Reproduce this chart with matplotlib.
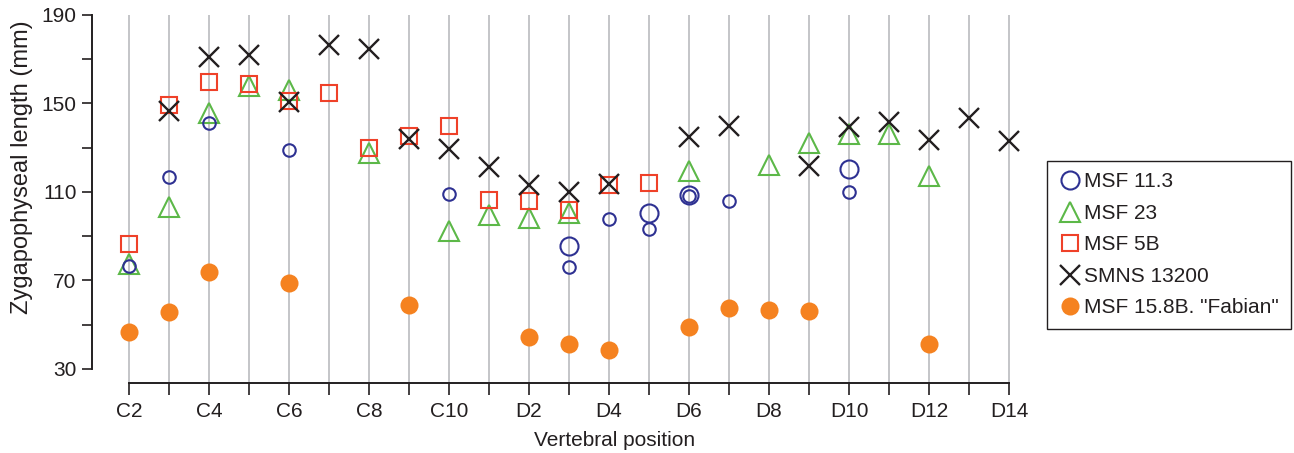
import numpy as np
import matplotlib
matplotlib.use("Agg")
import matplotlib.pyplot as plt

nan = np.nan

positions = ["C2", "C3", "C4", "C5", "C6", "C7", "C8", "C9", "C10",
             "D1", "D2", "D3", "D4", "D5", "D6", "D7", "D8", "D9", "D10",
             "D11", "D12", "D13", "D14"]
tick_labels = [p if i % 2 == 0 else "" for i, p in enumerate(positions)]

msf_11_3_small = [76.6, 116.8, 141.4, nan, 128.9, nan, nan, nan, 109.3, nan, nan,
                  76.2, 97.7, 93.2, 108.0, 105.8, nan, nan, 110.0, nan, nan, nan, nan]
msf_11_3_large = [nan, nan, nan, nan, nan, nan, nan, nan, nan, nan, nan,
                  85.7, nan, 100.3, 108.6, nan, nan, nan, 120.3, nan, nan, nan, nan]
msf_23 = [77.6, 103.1, 145.7, 157.8, 156.0, nan, 127.7, nan, 92.3, 99.5, 98.4,
          100.7, nan, nan, 119.7, nan, 122.1, 132.3, 136.0, 136.0, 117.2, nan, nan]
msf_5b = [86.4, 149.4, 159.7, 158.6, 151.1, 154.8, 130.1, 135.3, 139.8, 106.4, 105.8,
          101.9, 113.1, 113.9, nan, nan, nan, nan, nan, nan, nan, nan, nan]
smns_13200 = [nan, 146.6, 171.0, 171.8, 150.7, 176.6, 174.8, 133.8, 129.6, 121.3, 113.1,
              109.8, 113.8, nan, 134.9, 139.8, nan, 121.8, 139.5, 141.8, 133.7, 143.5, 133.1]
msf_15_8b = [46.8, 55.9, 73.7, nan, 69.0, nan, nan, 58.9, nan, nan, 44.6,
             41.1, 38.6, nan, 49.1, 57.7, 56.6, 56.2, nan, nan, 41.1, nan, nan]

y_ticks = [30, 70, 110, 150, 190]
y_minor = [50, 90, 130, 170]

BLUE = "#2E3192"
GREEN = "#5CB848"
RED = "#EF4129"
BLACK = "#231F20"
ORANGE = "#F58220"
GRID = "#BFC0C4"

plt.rcParams["font.family"] = ["Liberation Sans", "DejaVu Sans"]
plt.rcParams["font.size"] = 15
plt.rcParams["text.color"] = BLACK

fig = plt.figure(figsize=(12.94, 4.53), dpi=100)
W, H = 1294, 453
left_px, right_px, top_px, bottom_px = 92, 1029, 15, 383
ax = fig.add_axes([left_px / W, 1 - bottom_px / H, (right_px - left_px) / W, (bottom_px - top_px) / H])

x = np.arange(len(positions))

lw = 1.5
ax.plot(x, msf_23, linestyle="none", marker="^", ms=15, mfc="none", mec=GREEN, mew=lw, label="MSF 23", zorder=3)
ax.plot(x, msf_5b, linestyle="none", marker="s", ms=12, mfc="none", mec=RED, mew=lw, label="MSF 5B", zorder=4)
ax.plot(x, msf_11_3_small, linestyle="none", marker="o", ms=9, mfc="none", mec=BLUE, mew=lw, zorder=5)
ax.plot(x, msf_11_3_large, linestyle="none", marker="o", ms=13, mfc="none", mec=BLUE, mew=lw, label="MSF 11.3", zorder=5)
ax.plot(x, smns_13200, linestyle="none", marker="x", ms=15, mec=BLACK, mew=lw + 0.2, label="SMNS 13200", zorder=6)
ax.plot(x, msf_15_8b, linestyle="none", marker="o", ms=13, mfc=ORANGE, mec="none", label='MSF 15.8B. "Fabian"', zorder=6)

ax.set_xlim(-0.925, 22.5)
ax.set_ylim(23.67, 190)

ax.set_xticks(x)
ax.set_xticklabels(tick_labels)
ax.set_yticks(y_ticks)
ax.set_yticks(y_minor, minor=True)

ax.grid(axis="x", color=GRID, linewidth=1.3, zorder=0)
ax.set_axisbelow(True)

for s in ["top", "right"]:
    ax.spines[s].set_visible(False)
ax.spines["left"].set_bounds(30, 190)
ax.spines["bottom"].set_bounds(0, 22)
for s in ["left", "bottom"]:
    ax.spines[s].set_color(BLACK)
    ax.spines[s].set_linewidth(1.4)

ax.tick_params(axis="y", which="both", direction="out", length=7.2, width=1.2, color=BLACK, labelsize=15, pad=4, labelcolor=BLACK)
ax.tick_params(axis="x", which="major", direction="out", length=8.4, width=1.2, color=BLACK, labelsize=15, pad=5, labelcolor=BLACK)

fig.text(22 / W, 1 - 167 / H, "Zygapophyseal length (mm)", rotation=90, ha="center", va="center", fontsize=17)
fig.text(615 / W, 1 - 440 / H, "Vertebral position", ha="center", va="center", fontsize=15)

handles, labels = ax.get_legend_handles_labels()
order = ["MSF 11.3", "MSF 23", "MSF 5B", "SMNS 13200", 'MSF 15.8B. "Fabian"']
hmap = dict(zip(labels, handles))
leg = ax.legend([hmap[o] for o in order], order, loc="upper left",
                bbox_to_anchor=(1047 / W, 1 - 161 / H), bbox_transform=fig.transFigure,
                frameon=True, fancybox=False, edgecolor=BLACK, framealpha=1,
                borderpad=0.55, handlelength=1.1, handletextpad=0.15, labelspacing=0.6,
                borderaxespad=0, fontsize=15)
leg.get_frame().set_linewidth(1.0)

fig.savefig("out.png", dpi=100)
